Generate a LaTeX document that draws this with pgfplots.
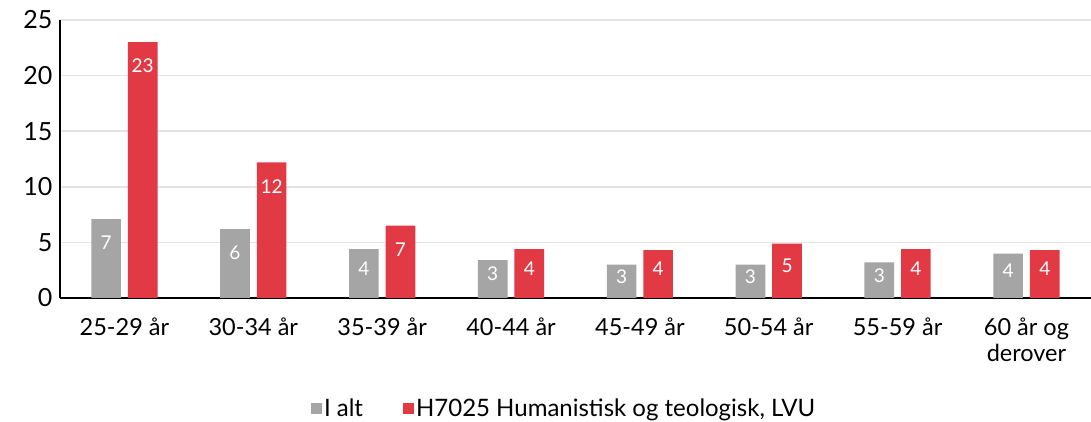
\documentclass[border=0pt]{standalone}
\usepackage{fontspec}
\setmainfont{Lato}
\usepackage{pgfplots}
\usepackage{pgfplotstable}
\pgfplotsset{compat=1.18}
\definecolor{cgray}{HTML}{A5A5A5}
\definecolor{cred}{HTML}{E13A44}
\definecolor{cgrid}{HTML}{E3E3E3}
\pgfplotstableread{
x g gl glab r rl rlab
0 7.1 4.95 7 23.0 20.85 23
1 6.2 4.05 6 12.2 10.05 12
2 4.4 2.65 4 6.5 4.35 7
3 3.4 2.15 3 4.4 2.65 4
4 3.0 1.95 3 4.3 2.60 4
5 3.0 1.95 3 4.9 2.90 5
6 3.2 2.05 3 4.4 2.65 4
7 4.0 2.45 4 4.3 2.60 4
}\data
\begin{document}
\begin{tikzpicture}
\begin{axis}[
  at={(0pt,0pt)}, anchor=south west,
  scale only axis, width=1031pt, height=278pt,
  xmin=-0.5, xmax=7.5, ymin=0, ymax=25,
  ytick={0,5,10,15,20,25},
  xtick={0,...,7},
  xticklabels={25-29 år,30-34 år,35-39 år,40-44 år,45-49 år,50-54 år,55-59 år,{60 år og\\derover}},
  xticklabel style={align=center, font=\fontsize{23.5}{26}\selectfont, anchor=north, yshift=-16pt},
  yticklabel style={font=\fontsize{25}{28}\selectfont, xshift=-4pt},
  /pgf/number format/assume math mode=true,
  major tick length=0pt,
  axis x line*=bottom, axis y line*=left,
  axis line style={-, black, line width=1.4pt},
  ymajorgrids, grid style={cgrid, line width=1.5pt},
  legend style={at={(0.489,-0.396)}, anchor=center, draw=none, legend columns=2,
    font=\fontsize{24}{28}\selectfont,
    /tikz/every even column/.append style={column sep=38pt}},
  legend image code/.code={\fill[#1] (0pt,-6pt) rectangle (11pt,5pt);},
]
\addplot[ybar, bar width=0.23, bar shift=-0.142, fill=cgray, draw=none] table[x=x,y=g]{\data};
\addlegendentry{I alt}
\addplot[ybar, bar width=0.23, bar shift=0.142, fill=cred, draw=none] table[x=x,y=r]{\data};
\addlegendentry{H7025 Humanistisk og teologisk, LVU}
\addplot[only marks, mark=none, forget plot, nodes near coords, point meta=explicit symbolic,
  every node near coord/.style={anchor=center, text=white, font=\fontsize{19}{22}\selectfont}]
  table[x expr=\thisrow{x}-0.142, y=gl, meta=glab]{\data};
\addplot[only marks, mark=none, forget plot, nodes near coords, point meta=explicit symbolic,
  every node near coord/.style={anchor=center, text=white, font=\fontsize{19}{22}\selectfont}]
  table[x expr=\thisrow{x}+0.142, y=rl, meta=rlab]{\data};
\end{axis}
\pgfresetboundingbox
\path (-60pt,-124pt) rectangle (1031pt,298pt);
\end{tikzpicture}
\end{document}
